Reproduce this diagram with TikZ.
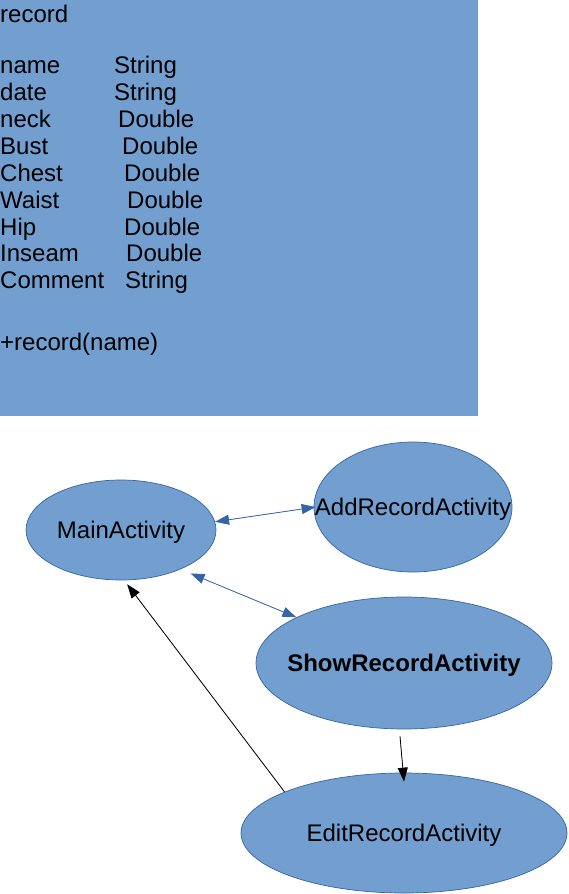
\documentclass[tikz,border=0pt]{standalone}
\usepackage{fontspec}
\setmainfont{Liberation Sans}
\usetikzlibrary{arrows.meta,shapes.geometric}
\definecolor{fillblue}{HTML}{729FCF}
\definecolor{lineblue}{HTML}{3465A4}
\begin{document}
\begin{tikzpicture}[x=1pt,y=-1pt,
  font=\fontsize{24}{28}\selectfont,
  txt/.style={anchor=base west,inner sep=0pt,text=black},
  state/.style={ellipse,draw=lineblue,fill=fillblue,line width=0.7pt,inner sep=0pt},
  lbl/.style={inner sep=0pt,text=black,yshift=-2.5pt},
  tip/.style={-{Triangle[length=14pt,width=10pt]}},
  bitip/.style={{Triangle[length=14pt,width=10pt]}-{Triangle[length=14pt,width=10pt]}},
  blueline/.style={draw=lineblue,fill=lineblue,line width=0.8pt},
  blackline/.style={draw=black,fill=black,line width=0.8pt}]
\useasboundingbox (0,0) rectangle (569,894);
% class box
\node[rectangle,fill=fillblue,inner sep=0pt,minimum width=478pt,minimum height=416pt,anchor=north west] (record) at (0,0) {};
\node[txt] (title) at (0,22) {record};
\node[txt] (n1) at (0,73) {name};     \node[txt] (t1) at (114,73) {String};
\node[txt] (n2) at (0,100) {date};    \node[txt] (t2) at (114,100) {String};
\node[txt] (n3) at (0,127) {neck};    \node[txt] (t3) at (118,127) {Double};
\node[txt] (n4) at (0,154) {Bust};    \node[txt] (t4) at (122,154) {Double};
\node[txt] (n5) at (0,181) {Chest};   \node[txt] (t5) at (124,181) {Double};
\node[txt] (n6) at (0,208) {Waist};   \node[txt] (t6) at (127,208) {Double};
\node[txt] (n7) at (0,235) {Hip};     \node[txt] (t7) at (124,235) {Double};
\node[txt] (n8) at (0,261) {Inseam};  \node[txt] (t8) at (126,261) {Double};
\node[txt] (n9) at (0,288) {Comment}; \node[txt] (t9) at (125,288) {String};
\node[txt] (op) at (0,350) {+record(name)};
% states
\node[state,minimum width=190pt,minimum height=100pt] (main) at (121,530) {};
\node[lbl] (mainl) at (main.center) {MainActivity};
\node[state,minimum width=198pt,minimum height=130pt] (add) at (413,507) {};
\node[lbl] (addl) at (add.center) {AddRecordActivity};
\node[state,minimum width=296pt,minimum height=132pt] (show) at (404,663) {};
\node[lbl,font=\fontsize{24}{28}\selectfont\bfseries] (showl) at (show.center) {ShowRecordActivity};
\node[state,minimum width=326pt,minimum height=120pt] (edit) at (404,833) {};
\node[lbl] (editl) at (edit.center) {EditRecordActivity};
% connectors
\draw[blueline,bitip] (main.5) -- ([xshift=2pt]add.180);
\draw[blueline,bitip] ([shift={(8,5)}]main.-32) -- (show.157);
\draw[blackline,tip] ([shift={(-4,7)}]show.south) -- ([shift={(0,9)}]edit.north);
\draw[blackline,tip] (edit.161) -- ([shift={(0,4)}]main.-83);
\end{tikzpicture}
\end{document}
